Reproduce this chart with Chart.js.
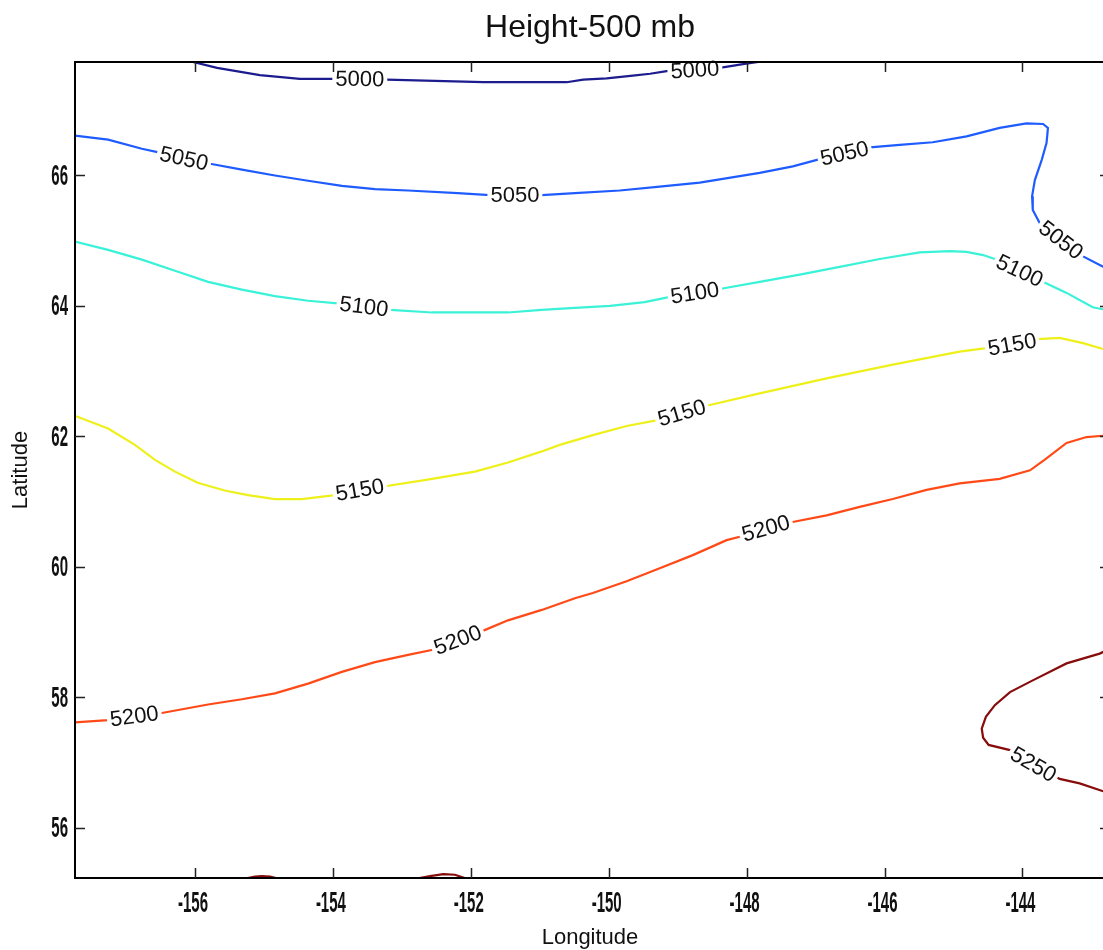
<!DOCTYPE html>
<html>
<head>
<meta charset="utf-8">
<title>Height-500 mb</title>
<script src="https://cdn.jsdelivr.net/npm/chart.js@4.4.1/dist/chart.umd.min.js"></script>
<style>
  html, body { margin: 0; padding: 0; background: #fff; overflow: hidden; }
  #marco { width: 1103px; height: 950px; overflow: hidden; }
  canvas { display: block; }
</style>
</head>
<body>
<div id="marco"><canvas id="grafico" width="1112" height="950"></canvas></div>
<script>
// --- Datos de las isolíneas (lon, lat) ---
const niveles = [5000, 5050, 5100, 5150, 5200, 5250];
const colores = ["#1c1c8e", "#1f5cff", "#3af2d8", "#eef01a", "#ff4a18", "#870c0c"];

const lon5000 = [-156.10, -155.68, -155.06, -154.48, -153.97, -153.22, -151.82, -150.61, -150.37, -150.03, -149.65, -149.40, -149.16, -148.39, -148.03, -147.71];
const lat5000 = [67.76, 67.65, 67.54, 67.48, 67.48, 67.47, 67.43, 67.43, 67.47, 67.49, 67.53, 67.56, 67.60, 67.65, 67.71, 67.76];

const lon5050 = [-157.80, -157.26, -156.77, -156.51, -155.78, -155.32, -154.84, -154.36, -153.87, -153.39, -152.91, -152.19, -151.72, -150.97, -150.49, -149.84, -149.26, -148.68, -148.39, -147.81, -147.33, -146.94, -146.21, -145.78, -145.30, -144.81, -144.33, -143.94, -143.70, -143.63, -143.65, -143.72, -143.82, -143.86, -143.85, -143.75, -143.12, -142.83, -142.70];
const lat5050 = [66.62, 66.55, 66.41, 66.35, 66.18, 66.09, 66.00, 65.92, 65.84, 65.79, 65.77, 65.73, 65.70, 65.70, 65.73, 65.77, 65.83, 65.89, 65.94, 66.04, 66.14, 66.25, 66.43, 66.47, 66.51, 66.60, 66.73, 66.80, 66.79, 66.73, 66.50, 66.24, 65.93, 65.68, 65.47, 65.27, 64.76, 64.60, 64.55];

const lon5100 = [-157.80, -157.26, -156.77, -156.29, -155.81, -155.32, -154.84, -154.36, -153.93, -153.17, -152.56, -151.46, -150.97, -150.49, -149.98, -149.48, -149.11, -148.39, -147.81, -147.23, -146.65, -146.07, -145.49, -145.05, -144.81, -144.57, -144.40, -143.68, -143.36, -142.98, -142.70];
const lat5100 = [65.00, 64.86, 64.71, 64.54, 64.37, 64.25, 64.15, 64.08, 64.04, 63.94, 63.90, 63.90, 63.94, 63.97, 64.00, 64.06, 64.14, 64.26, 64.37, 64.48, 64.60, 64.72, 64.82, 64.84, 64.83, 64.78, 64.72, 64.36, 64.20, 63.98, 63.92];

const lon5150 = [-157.80, -157.26, -156.87, -156.58, -156.29, -155.96, -155.57, -155.23, -154.84, -154.45, -153.97, -153.22, -152.67, -151.94, -151.46, -150.97, -150.71, -150.23, -149.74, -149.29, -148.58, -147.81, -146.84, -145.88, -144.91, -144.47, -143.79, -143.46, -143.12, -142.83, -142.70];
const lat5150 = [62.34, 62.12, 61.87, 61.64, 61.46, 61.29, 61.17, 61.10, 61.04, 61.04, 61.10, 61.24, 61.33, 61.46, 61.60, 61.77, 61.87, 62.02, 62.16, 62.25, 62.47, 62.66, 62.89, 63.10, 63.30, 63.36, 63.49, 63.51, 63.43, 63.34, 63.30];

const lon5200 = [-157.80, -157.26, -156.48, -155.81, -155.32, -154.84, -154.36, -153.87, -153.39, -152.91, -152.55, -151.80, -151.46, -150.97, -150.49, -150.23, -149.74, -149.26, -148.78, -148.29, -148.07, -147.37, -146.84, -146.36, -145.88, -145.39, -144.91, -144.33, -143.89, -143.68, -143.36, -143.07, -142.83, -142.70];
const lat5200 = [57.61, 57.65, 57.76, 57.89, 57.97, 58.06, 58.21, 58.39, 58.54, 58.65, 58.73, 59.03, 59.18, 59.34, 59.52, 59.60, 59.78, 59.98, 60.18, 60.41, 60.47, 60.68, 60.79, 60.92, 61.04, 61.18, 61.28, 61.35, 61.48, 61.64, 61.90, 61.99, 62.01, 62.01];

const lon5250 = [-142.70, -142.88, -143.36, -143.85, -144.18, -144.40, -144.53, -144.59, -144.57, -144.49, -144.18, -143.46, -143.17, -142.83, -142.70];
const lat5250 = [58.76, 58.67, 58.52, 58.26, 58.08, 57.88, 57.70, 57.52, 57.38, 57.27, 57.19, 56.75, 56.68, 56.56, 56.53];
// pequeños trozos de 5250 en el borde inferior
const lon5250a = [-155.26, -155.23, -155.13, -155.03, -154.91, -154.83, -154.80];
const lat5250a = [55.20, 55.23, 55.25, 55.26, 55.25, 55.23, 55.20];
const lon5250b = [-152.78, -152.74, -152.59, -152.40, -152.23, -152.09, -152.05];
const lat5250b = [55.20, 55.23, 55.26, 55.29, 55.28, 55.23, 55.20];

// --- Etiquetas de las isolíneas ---
const etiquetaNivel = [5000, 5000, 5050, 5050, 5050, 5050, 5100, 5100, 5100, 5150, 5150, 5150, 5200, 5200, 5200, 5250];
const etiquetaLon = [-153.61, -148.75, -156.16, -151.36, -146.58, -143.44, -153.55, -148.75, -144.04, -153.61, -148.94, -144.15, -156.88, -152.19, -147.72, -143.84];
const etiquetaLat = [67.48, 67.62, 66.26, 65.70, 66.34, 65.01, 63.99, 64.20, 64.54, 61.18, 62.36, 63.41, 57.71, 58.88, 60.59, 56.97];

// --- Ejes ---
const xTicks = [-156, -154, -152, -150, -148, -146, -144];
const yTicks = [56, 58, 60, 62, 64, 66];
const xMin = -157.74, xMax = -142.73;
const yMin = 55.23, yMax = 67.74;

const FUENTE = '"Liberation Sans", Arial, sans-serif';

const trazos = [
  [5000, lon5000, lat5000],
  [5050, lon5050, lat5050],
  [5100, lon5100, lat5100],
  [5150, lon5150, lat5150],
  [5200, lon5200, lat5200],
  [5250, lon5250, lat5250],
  [5250, lon5250a, lat5250a],
  [5250, lon5250b, lat5250b]
];

const datasets = trazos.map(([nivel, lons, lats]) => ({
  label: String(nivel),
  nivel: nivel,
  data: lons.map((x, i) => ({ x: x, y: lats[i] })),
  borderColor: colores[niveles.indexOf(nivel)],
  borderWidth: 2.2,
  pointRadius: 0,
  fill: false,
  tension: 0
}));

// angulo de la isolínea en el punto de la etiqueta
function anguloEn(chart, nivel, px, py) {
  let mejor = Infinity, ang = 0;
  chart.data.datasets.forEach((ds, i) => {
    if (ds.nivel !== nivel) return;
    const pts = chart.getDatasetMeta(i).data;
    for (let k = 0; k < pts.length - 1; k++) {
      const ax = pts[k].x, ay = pts[k].y;
      const dx = pts[k + 1].x - ax, dy = pts[k + 1].y - ay;
      const l2 = dx * dx + dy * dy || 1;
      let t = ((px - ax) * dx + (py - ay) * dy) / l2;
      t = Math.max(0, Math.min(1, t));
      const d = Math.hypot(ax + t * dx - px, ay + t * dy - py);
      if (d < mejor) { mejor = d; ang = Math.atan2(dy, dx); }
    }
  });
  if (ang > Math.PI / 2) ang -= Math.PI;
  if (ang < -Math.PI / 2) ang += Math.PI;
  return ang;
}

const estiloMatlab = {
  id: "estiloMatlab",
  afterDatasetsDraw(chart) {
    const { ctx, chartArea: a, scales: { x, y } } = chart;

    // --- etiquetas sobre las líneas ---
    ctx.save();
    ctx.font = "22px " + FUENTE;
    ctx.textAlign = "center";
    ctx.textBaseline = "middle";
    etiquetaNivel.forEach((nivel, i) => {
      const px = x.getPixelForValue(etiquetaLon[i]);
      const py = y.getPixelForValue(etiquetaLat[i]);
      const ang = anguloEn(chart, nivel, px, py);
      const txt = String(nivel);
      const w = ctx.measureText(txt).width;
      ctx.save();
      ctx.translate(px, py);
      ctx.rotate(ang);
      ctx.fillStyle = "#fff";
      ctx.fillRect(-w / 2 - 3, -9, w + 6, 18);
      ctx.fillStyle = "#111";
      ctx.fillText(txt, 0, 1);
      ctx.restore();
    });
    ctx.restore();

    // --- marco y marcas ---
    ctx.save();
    ctx.strokeStyle = "#000";
    ctx.lineWidth = 2;
    ctx.strokeRect(a.left, a.top, a.right - a.left, a.bottom - a.top);
    ctx.lineWidth = 1.5;
    ctx.strokeStyle = "#222";
    ctx.beginPath();
    x.ticks.forEach(t => {
      const px = Math.round(x.getPixelForValue(t.value)) + 0.5;
      ctx.moveTo(px, a.bottom); ctx.lineTo(px, a.bottom - 10);
      ctx.moveTo(px, a.top); ctx.lineTo(px, a.top + 10);
    });
    y.ticks.forEach(t => {
      const py = Math.round(y.getPixelForValue(t.value)) + 0.5;
      ctx.moveTo(a.left, py); ctx.lineTo(a.left + 10, py);
      ctx.moveTo(a.right, py); ctx.lineTo(a.right - 10, py);
    });
    ctx.stroke();

    // --- números de los ejes (fuente estrecha) ---
    ctx.fillStyle = "#111";
    ctx.font = "bold 30px " + FUENTE;
    ctx.textBaseline = "middle";
    x.ticks.forEach(t => {
      const px = x.getPixelForValue(t.value);
      ctx.save();
      ctx.translate(px - 2, a.bottom + 26);
      ctx.scale(0.5, 1);
      ctx.textAlign = "center";
      ctx.fillText(String(t.value), 0, 0);
      ctx.restore();
    });
    y.ticks.forEach(t => {
      const py = y.getPixelForValue(t.value);
      ctx.save();
      ctx.translate(a.left - 7, py + 1);
      ctx.scale(0.5, 1);
      ctx.textAlign = "right";
      ctx.fillText(String(t.value), 0, 0);
      ctx.restore();
    });

    // --- títulos ---
    ctx.textAlign = "center";
    ctx.font = "32px " + FUENTE;
    ctx.fillText("Height-500 mb", 590, 28);
    ctx.font = "22px " + FUENTE;
    ctx.fillText("Longitude", 590, 938);
    ctx.save();
    ctx.translate(21, 470);
    ctx.rotate(-Math.PI / 2);
    ctx.fillText("Latitude", 0, 0);
    ctx.restore();
    ctx.restore();
  }
};

new Chart(document.getElementById("grafico"), {
  type: "line",
  data: { datasets: datasets },
  options: {
    responsive: false,
    animation: false,
    devicePixelRatio: 1,
    layout: { padding: { left: 75, top: 62, right: 2, bottom: 72 } },
    plugins: { legend: { display: false }, tooltip: { enabled: false } },
    scales: {
      x: {
        type: "linear", display: false, min: xMin, max: xMax,
        afterBuildTicks: s => { s.ticks = xTicks.map(v => ({ value: v })); }
      },
      y: {
        type: "linear", display: false, min: yMin, max: yMax,
        afterBuildTicks: s => { s.ticks = yTicks.map(v => ({ value: v })); }
      }
    }
  },
  plugins: [estiloMatlab]
});
</script>
</body>
</html>
